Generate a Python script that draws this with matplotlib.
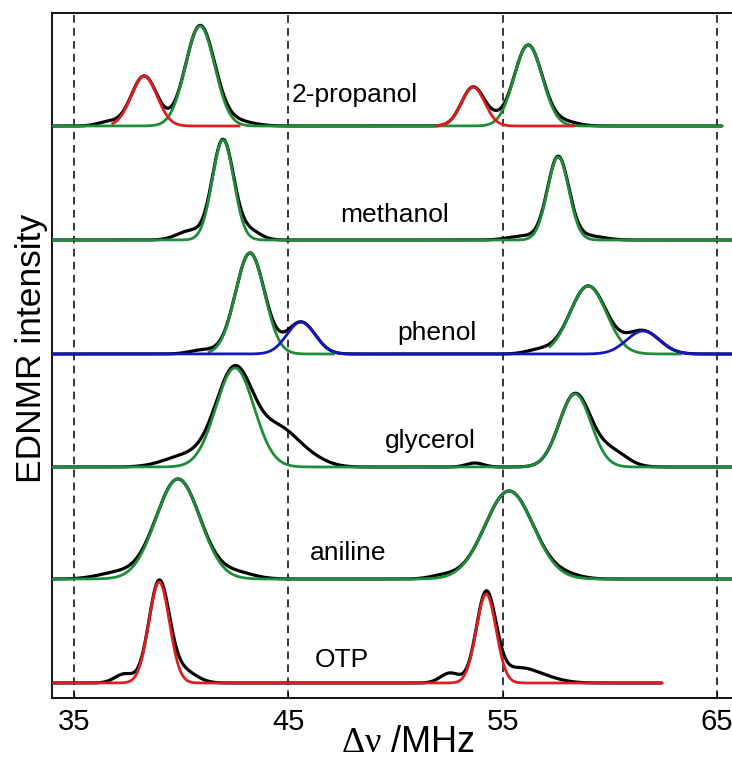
import numpy as np
import matplotlib.pyplot as plt

plt.rcParams['font.family'] = ['Liberation Sans', 'DejaVu Sans']
plt.rcParams['mathtext.fontset'] = 'custom'
plt.rcParams['mathtext.rm'] = 'Liberation Serif'

# spectra, top to bottom
samples = ['2-propanol', 'methanol', 'phenol', 'glycerol', 'aniline', 'OTP']
baseline = [572, 458, 344, 231, 119, 15]
trace_end = [65.24, 65.7, 65.7, 65.7, 65.7, 62.44]

# gaussian fit components (MHz, MHz, a.u.)
fit_center = [[38.27, 40.88, 53.62, 56.19], [41.95, 57.59],
              [43.21, 45.59, 58.99, 61.55], [42.51, 58.38],
              [39.85, 55.30], [38.97, 54.23]]
fit_sigma = [[0.60, 0.68, 0.54, 0.66], [0.50, 0.50],
             [0.68, 0.66, 0.85, 0.77], [0.89, 0.74],
             [1.03, 1.13], [0.48, 0.46]]
fit_height = [[50, 100, 39, 81], [100, 83],
              [101, 32, 68, 23], [99, 73],
              [100, 88], [101, 89]]
fit_group = [['A', 'B', 'A', 'B'], ['B', 'B'],
             ['B', 'C', 'B', 'C'], ['B', 'B'],
             ['B', 'B'], ['A', 'A']]
fit_span = [[(36.8, 42.7), None, (51.9, 58.3), None], [None, None],
            [(41.3, 47.1), None, (57.2, 63.3), None], [None, None],
            [None, None], [None, None]]

# extra intensity of the measured trace not covered by the fit
extra_center = [[36.6, 42.5, 54.65, 57.9], [40.4, 43.2, 56.0, 59.0],
                [41.0, 56.7], [40.2, 44.6, 46.0, 60.1, 53.7],
                [37.0, 42.6, 52.2, 58.0], [37.35, 40.1, 52.55, 55.7, 57.0]]
extra_sigma = [[0.5, 0.8, 0.4, 0.6], [0.6, 0.5, 0.7, 0.7],
               [0.6, 0.6], [1.0, 0.85, 0.8, 0.7, 0.4],
               [0.9, 0.8, 0.6, 0.7], [0.45, 0.6, 0.45, 0.85, 0.8]]
extra_height = [[4, 5, 4, 4], [9, 9, 4, 4],
                [4, 4], [11, 34, 8, 15, 4],
                [6, 6, 3, 3], [9, 12, 10, 14, 4]]

label_x = [45.17, 47.41, 50.07, 49.51, 46.01, 46.25]
label_y = [596, 476, 358, 250, 138, 31]

grid_lines = [35, 45, 55, 65]
group_color = {'A': '#de1f1f', 'B': '#1f8c3b', 'C': '#1616c0'}
group_z = {'A': 4, 'B': 3, 'C': 4}


def gauss(x, c, s, h):
    return h * np.exp(-0.5 * ((x - c) / s) ** 2)


fig = plt.figure(figsize=(7.32, 7.6), dpi=100)
ax = fig.add_axes([0.071, 0.0816, 0.929, 0.9013])

for i, name in enumerate(samples):
    x = np.linspace(34.0, trace_end[i], 3000)
    total = np.zeros_like(x)
    groups = {}
    for c, s, h, g, sp in zip(fit_center[i], fit_sigma[i], fit_height[i],
                              fit_group[i], fit_span[i]):
        y = gauss(x, c, s, h)
        total += y
        if sp is None:
            m = np.ones_like(x, dtype=bool)
        else:
            m = (x >= sp[0]) & (x <= sp[1])
        if g in groups:
            groups[g][0] += y
            groups[g][1] |= m
        else:
            groups[g] = [y.copy(), m]
    meas = total.copy()
    for c, s, h in zip(extra_center[i], extra_sigma[i], extra_height[i]):
        meas += gauss(x, c, s, h)

    ax.plot(x, baseline[i] + meas, color='black', lw=2.3, zorder=2,
            solid_capstyle='butt')
    for g, (y, m) in groups.items():
        ax.plot(x, np.where(m, baseline[i] + y, np.nan),
                color=group_color[g], lw=2.0, zorder=group_z[g])
    ax.text(label_x[i], label_y[i], name, fontsize=19, ha='left',
            va='baseline', zorder=5)

for v in grid_lines:
    ax.axvline(v, color='black', lw=1.1, ls=(0, (5, 3.5)), zorder=1)

ax.set_xlim(33.97, 65.7)
ax.set_ylim(0, 685)
ax.set_xticks(grid_lines)
ax.set_yticks([])
ax.tick_params(axis='x', direction='in', length=4, labelsize=21, pad=7)
ax.spines['right'].set_visible(False)
for sp in ['left', 'top', 'bottom']:
    ax.spines[sp].set_linewidth(1.3)

ax.set_xlabel(r'$\mathrm{\Delta\nu}$ /MHz', fontsize=26)
ax.xaxis.set_label_coords(0.524, -0.039)
ax.set_ylabel('EDNMR intensity', fontsize=25.5)
ax.yaxis.set_label_coords(-0.006, 0.511)

fig.savefig('out.png', dpi=100)
